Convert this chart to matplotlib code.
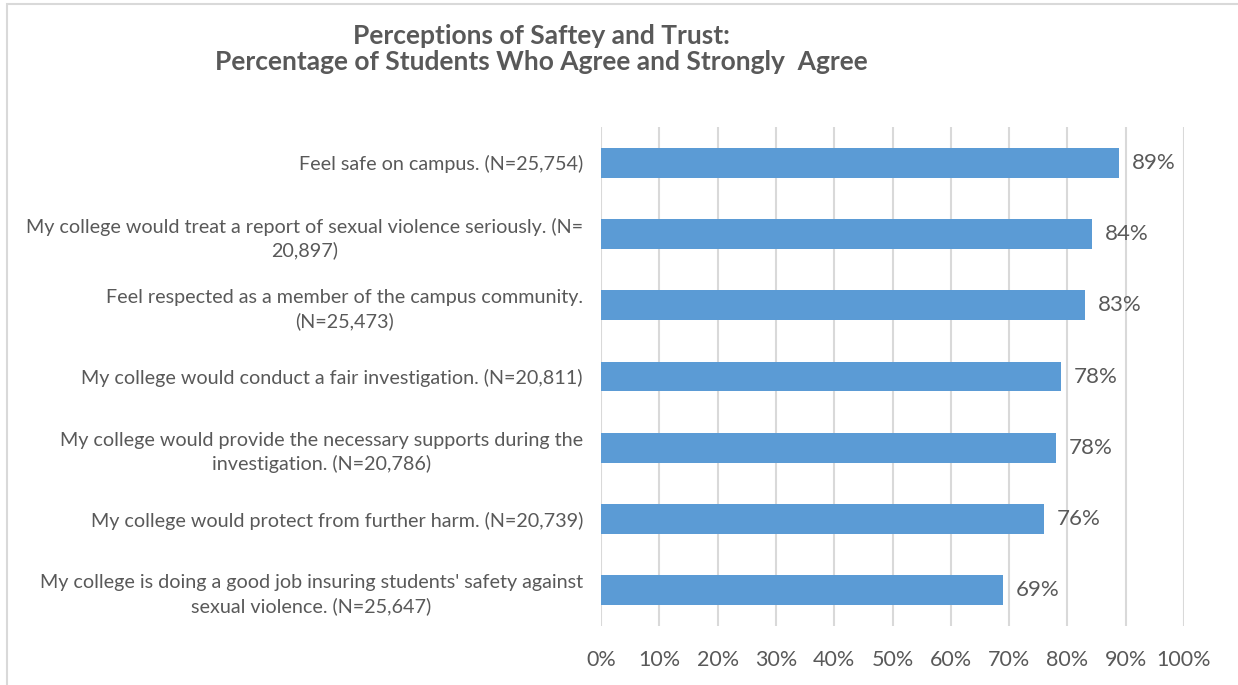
import matplotlib
matplotlib.use("Agg")
import matplotlib.pyplot as plt
from matplotlib.patches import Rectangle

categories = [
    "Feel safe on campus. (N=25,754)",
    "My college would treat a report of sexual violence seriously. (N=\n20,897)",
    "Feel respected as a member of the campus community.\n(N=25,473)",
    "My college would conduct a fair investigation. (N=20,811)",
    "My college would provide the necessary supports during the\ninvestigation. (N=20,786)",
    "My college would protect from further harm. (N=20,739)",
    "My college is doing a good job insuring students' safety against\nsexual violence. (N=25,647)",
]
values = [88.9, 84.2, 83.1, 78.9, 78.0, 76.0, 69.0]
value_labels = ["89%", "84%", "83%", "78%", "78%", "76%", "69%"]
xticks = [0, 10, 20, 30, 40, 50, 60, 70, 80, 90, 100]
xtick_labels = [f"{t}%" for t in xticks]
title = "Perceptions of Saftey and Trust:\nPercentage of Students Who Agree and Strongly  Agree"

TXT = "#595959"
BAR = "#5B9BD5"
GRID = "#D9D9D9"
FONT = ["Lato", "DejaVu Sans"]
plt.rcParams["font.family"] = FONT

W, H = 1238, 685
fig = plt.figure(figsize=(W / 100, H / 100), dpi=100)
fig.patch.set_facecolor("white")

# outer border
fig.patches.append(Rectangle((7 / W, -0.05), 1.2, 1 - 4 / H + 0.05, transform=fig.transFigure,
                             fill=False, edgecolor=GRID, linewidth=1.5, clip_on=False))

ax = fig.add_axes([601 / W, 1 - 626 / H, (1184 - 601) / W, (626 - 127) / H])
n = len(categories)
ypos = list(range(n))
ax.barh(ypos, values, height=0.42, color=BAR, zorder=3)
ax.set_ylim(n - 0.5, -0.5)
ax.set_xlim(0, 100)
ax.set_xticks(xticks)
ax.set_xticklabels(xtick_labels)
ax.set_yticks(ypos)
ax.set_yticklabels(categories)
for t in ax.get_yticklabels():
    t.set_multialignment("center")
    t.set_linespacing(1.38)
ax.tick_params(axis="x", length=0, pad=17, labelsize=15.5, colors=TXT)
ax.tick_params(axis="y", length=0, pad=13, labelsize=14.2, colors=TXT)
ax.xaxis.grid(True, color=GRID, linewidth=1.5, zorder=0)
for s in ax.spines.values():
    s.set_visible(False)

for y, v, lab in zip(ypos, values, value_labels):
    ax.text(v + 2.2, y, lab, va="center", ha="left", fontsize=16, color=TXT, zorder=4)

fig.text(541 / W, 1 - 49 / H, title, ha="center", va="center", fontsize=19,
         fontweight="bold", color=TXT, linespacing=1.05)

fig.savefig("out.png", dpi=100)
